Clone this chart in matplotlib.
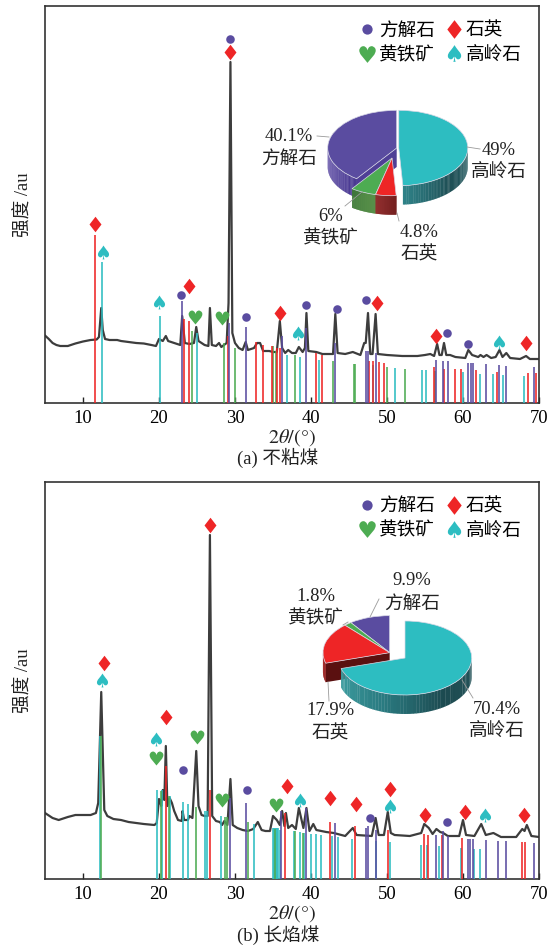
import numpy as np
import matplotlib
matplotlib.use("Agg")
import matplotlib.pyplot as plt
from matplotlib.colors import LinearSegmentedColormap
from matplotlib.lines import Line2D
from matplotlib.patches import Wedge

plt.rcParams["font.family"] = ["Liberation Serif", "Noto Sans CJK SC"]

W, H = 554, 947
PURPLE, GREEN, RED, TEAL = "#5a4ca0", "#4dac52", "#ee2526", "#2dbdc1"
CURVE = "#3d3d3d"
FS = 13.4

names = ["方解石", "黄铁矿", "石英", "高岭石"]
x_ticks = [10, 20, 30, 40, 50, 60, 70]

# intensity is in arbitrary units
a_x = [5, 5.5, 6, 6.5, 7, 8, 9, 10, 11, 11.8, 12.1, 12.4, 12.6, 12.9, 13.5, 14.5, 15, 16, 17, 18, 19, 19.6, 20, 20.5,
       20.9, 21.2, 22, 22.8, 23.05, 23.4, 24, 24.6, 24.9, 25.2, 26, 26.5, 26.7, 26.95, 27.5, 27.9, 28.2, 28.9, 29.15,
       29.4, 29.65, 30, 30.5, 31, 31.4, 31.7, 32.5, 32.9, 33.3, 33.7, 34.5, 35, 35.5, 35.9, 36.2, 36.6, 37, 37.5, 38,
       38.4, 38.9, 39.2, 39.4, 39.65, 40.7, 41.5, 42.9, 43.2, 43.5, 44.5, 45.5, 46.5, 47, 47.2, 47.5, 47.8, 48.1, 48.5,
       48.8, 50, 52, 54, 55, 55.7, 56.2, 56.6, 56.9, 57.2, 57.5, 57.8, 58.3, 59, 60.3, 60.7, 61.2, 62, 62.3, 62.7, 63.1,
       63.7, 64.3, 64.8, 65.2, 65.7, 66.2, 67.5, 68.3, 68.8, 70]
a_y = [67.5, 64, 60, 58, 57, 57, 59.5, 61.5, 63, 63.5, 66, 95, 73, 64, 63, 63, 62, 61, 60, 59.5, 58, 57, 64, 62,
       67, 62, 60, 58, 87, 60, 59, 60, 76, 62, 58, 57, 95, 58, 57, 60, 56, 60, 100,
       341, 70, 60, 55, 53, 61, 53, 55, 60, 60, 52, 52, 51, 51, 82, 55, 50, 53, 50, 50,
       56, 51, 55, 90, 52, 51, 49, 49, 89, 50, 49, 51, 48, 60, 60, 90, 49, 49, 89,
       49, 48, 47, 47, 48, 49, 47, 59, 48, 48, 60, 48, 48, 46, 45, 53, 48, 46, 48, 46, 48,
       45, 46, 53, 46, 50, 45, 44, 47, 44, 44]

a_purple_x = [23.0, 29.2, 31.5, 36.2, 39.4, 43.2, 47.2, 47.5, 48.5, 56.5, 57.4, 58, 60.6, 61, 61.3, 63, 64.7, 65.6, 69.3]
a_purple_y = [102, 80, 76, 67, 75, 60, 52, 52, 50, 43, 42, 42, 40, 40, 40, 39, 38, 37, 36]
a_green_x = [24.4, 28.6, 30, 35, 35.4, 37.9, 42.9, 45.7, 45.8, 50, 52.4, 56.3]
a_green_y = [72, 60, 55, 57, 52, 48, 42, 39, 39, 36, 34, 32]
a_red_x = [11.6, 23.3, 24, 29.1, 32.7, 33.7, 34.9, 35.5, 35.9, 40.6, 41.4, 47.6, 48.1, 48.9, 49.6, 56.2, 57.5, 59, 59.7,
           61.7, 64.5, 68.5, 69.6]
a_red_y = [168, 84, 82, 67, 61, 58, 57, 55, 55, 50, 48, 42, 42, 41, 40, 36, 34, 34, 34, 33, 31, 30, 30]
a_teal_x = [12.5, 20.1, 25, 36.9, 38.6, 41, 48.2, 51.1, 54.6, 55.1, 60, 62.3, 63.9, 65.2, 68]
a_teal_y = [141, 87, 70, 48, 46, 43, 38, 35, 33, 33, 31, 29, 29, 28, 27]

b_x = [5, 6, 6.8, 8, 9, 10, 11, 11.7, 12, 12.4, 12.8, 13.2, 14, 15, 16, 17, 18, 19.4, 19.7, 20, 20.1, 20.3, 20.5, 20.7,
       20.9, 21.1, 21.4, 21.7, 22, 22.5, 23, 23.1, 23.3, 23.8, 24, 24.4, 24.9, 25.2, 25.6, 26, 26.4, 26.7, 27, 27.5, 28,
       28.3, 28.6, 29, 29.4, 29.7, 30.3, 31, 31.7, 32.4, 33, 33.5, 34, 34.6, 35, 35.5, 35.9, 36.2, 36.5, 36.7, 37, 37.5,
       38, 38.4, 39, 39.4, 39.8, 40.3, 40.7, 42, 43, 44.5, 45.5, 46, 48, 48.5, 48.9, 49.6, 50.1, 50.5, 51, 53, 54.5, 54.9,
       55.5, 56, 56.5, 57, 57.4, 58, 59.5, 60, 60.4, 61.5, 62.4, 63, 64, 65, 67, 67.8, 68.1, 68.4, 69, 70]
b_y = [66, 61, 59, 62, 64, 64, 64, 66, 76, 187, 69, 63, 60, 59, 57, 56, 55, 54, 56, 80, 79, 73, 89, 79,
       133, 73, 81, 76, 68, 59, 58, 68, 59, 59, 63, 61, 128, 73, 64, 63, 63, 344, 63, 58, 57,
       54, 58, 54, 100, 54, 51, 49, 48, 50, 57, 49, 48, 48, 63, 59, 54, 68, 53, 66, 51, 54,
       50, 71, 51, 71, 48, 55, 49, 47, 46, 43, 51, 44, 43, 61, 44, 44, 67, 46, 44, 43, 46, 55,
       51, 45, 50, 47, 46, 43, 43, 59, 44, 43, 55, 44, 46, 42, 42, 50, 48, 54, 43, 42]

b_purple_x = [29.4, 31.4, 36.1, 39.4, 43.2, 47.2, 47.5, 48.5, 56.5, 57.4, 58, 60.6, 60.9, 61.3, 63, 64.6, 65.6, 69.3]
b_purple_y = [81, 76, 68, 71, 56, 51, 53, 49, 44, 48, 43, 40, 40, 40, 39, 38, 38, 36]
b_green_x = [12.4, 20.2, 21.3, 24.9, 28.7, 28.9, 31.7, 35.2, 37.9, 39]
b_green_y = [143, 88, 83, 72, 62, 62, 57, 50, 48, 46]
b_red_x = [20.9, 26.7, 36.6, 42.5, 45.8, 50.1, 54.9, 55.4, 57.3, 59.9, 67.8, 68.2]
b_red_y = [113, 89, 66, 57, 53, 49, 45, 44, 44, 41, 37, 37]
b_teal_x = [12.3, 19.8, 20.4, 21.5, 23.1, 23.8, 26, 26.3, 28.2, 32.5, 35, 35.1, 35.3, 35.4, 35.5, 35.6, 35.9, 37.8, 38.5,
            39.1, 40, 40.6, 41.3, 42.8, 43.5, 45.4, 48.6, 50.4, 54.5, 55.3, 56.9, 59.8, 61.5, 62.3]
b_teal_y = [143, 89, 89, 83, 77, 75, 68, 68, 63, 55, 51, 51, 51, 51, 51, 51, 49, 48, 47,
            46, 45, 45, 44, 43, 42, 40, 38, 37, 34, 34, 33, 31, 30, 30]

# peak markers
a_circle = ([22.85, 29.3, 31.5, 39.4, 43.4, 47.3, 57.9, 60.7], [108, 364, 86, 98, 94, 103, 70, 59])
a_heart = ([24.7, 28.3], [86, 85])
a_diamond = ([11.58, 24, 29.3, 35.9, 48.7, 56.5, 68.3], [179, 117, 351, 90, 100, 67, 60])
a_spade = ([12.67, 20, 38.3, 64.7], [151, 101, 70, 61])

b_circle = ([23.2, 31.6, 47.7, 57.9], [108.6, 89, 61, 57])
b_heart = ([19.6, 25, 28.3, 35.4], [121, 141.6, 79, 74])
b_diamond = ([12.76, 20.9, 26.7, 36.8, 42.5, 45.9, 50.4, 55, 60.3, 68], [216, 161.6, 354, 93, 81, 75, 90, 64, 67, 64])
b_spade = ([12.5, 19.6, 38.6, 50.4, 62.9], [199, 140, 79, 73, 64])

a_share = [40.1, 6, 4.8, 49]
b_share = [9.9, 1.8, 17.9, 70.4]

MARKS = {"circle": "o", "heart": "$\u2665$", "diamond": "$\u2666$", "spade": "$\u2660$"}


def draw_xrd(rect, cx, cy, sticks, marks):
    ax = fig.add_axes([rect[0] / W, 1 - rect[3] / H, (rect[2] - rect[0]) / W, (rect[3] - rect[1]) / H])
    ax.plot(cx, cy, color=CURVE, lw=1.6, zorder=2, solid_joinstyle="round")
    for xs, ys, c in sticks:
        ax.vlines(xs, 0, ys, color=c, lw=1.15, zorder=3)
    handles = []
    for (key, size, c), (mx, my), name in zip(
            [("circle", 38, PURPLE), ("heart", 100, GREEN), ("diamond", 125, RED), ("spade", 100, TEAL)], marks, names):
        ax.scatter(mx, my, marker=MARKS[key], s=size, color=c, linewidths=0, zorder=4)
        handles.append(Line2D([], [], ls="", marker=MARKS[key], color=c, mew=0, ms=np.sqrt(size) * 1.2, label=name))
    ax.set_xlim(5, 70)
    ax.set_ylim(0, rect[3] - rect[1])
    ax.set_xticks(x_ticks)
    ax.set_yticks([])
    ax.tick_params(axis="x", direction="in", length=4.5, width=1, labelsize=FS, pad=5, color="#222222")
    for s in ax.spines.values():
        s.set_linewidth(1.2)
        s.set_color("#333333")
    ax.legend(handles=handles, ncol=2, loc="upper left", bbox_to_anchor=((356 - rect[0]) / (rect[2] - rect[0]), 0.96),
              frameon=False, fontsize=FS, labelspacing=0.4, handletextpad=0.05, columnspacing=0.4,
              borderpad=0, borderaxespad=0, handlelength=1.2)
    return ax


def pie_3d(cx, cy, rx, ry, depth, shares, offsets, wall_stops, cut_faces):
    # axes spans 1.5 radii each way, one data unit = one radius
    ax = fig.add_axes([(cx - 1.5 * rx) / W, 1 - (cy + 2.2 * ry) / H, 3 * rx / W, 3.7 * ry / H], zorder=5)
    ax.set_xlim(-1.5, 1.5)
    ax.set_ylim(-2.2, 1.5)
    ax.axis("off")
    d = depth / ry
    edges = 90 + np.concatenate([[0], np.cumsum(shares)]) / np.sum(shares) * 360
    tops = [PURPLE, GREEN, RED, TEAL]
    for i in range(4):
        t1, t2 = edges[i], edges[i + 1]
        ox, oy = offsets[i]
        # flat cut face left open by the slices pulled out of the pie
        if i in cut_faces:
            r = np.radians(t2)
            ax.fill([ox, ox + np.cos(r), ox + np.cos(r), ox], [oy, oy + np.sin(r), oy + np.sin(r) - d, oy - d],
                    color=cut_faces[i], lw=0, zorder=i * 3 + 1)
        lo, hi = max(t1, 180), min(t2, 360)
        if hi > lo:
            cmap = LinearSegmentedColormap.from_list("w", wall_stops[i])
            ts = np.linspace(lo, hi, 60)
            for j in range(len(ts) - 1):
                a = np.radians([ts[j], ts[j + 1] + 0.3])
                ax.fill([ox + np.cos(a[0]), ox + np.cos(a[1]), ox + np.cos(a[1]), ox + np.cos(a[0])],
                        [oy + np.sin(a[0]), oy + np.sin(a[1]), oy + np.sin(a[1]) - d, oy + np.sin(a[0]) - d],
                        color=cmap(j / (len(ts) - 2)), lw=0, zorder=i * 3 + 1)
        ax.add_patch(Wedge((ox, oy), 1, t1, t2, fc=tops[i], ec="#d8d8e6", lw=0.5, zorder=i * 3 + 2))
    return ax


fig = plt.figure(figsize=(W / 100, H / 100), dpi=100)
fig.patch.set_facecolor("white")

draw_xrd((45, 6.3, 539, 403), a_x, a_y,
         [(a_teal_x, a_teal_y, TEAL), (a_green_x, a_green_y, GREEN), (a_red_x, a_red_y, RED),
          (a_purple_x, a_purple_y, PURPLE)],
         [a_circle, a_heart, a_diamond, a_spade])
draw_xrd((45, 482, 539, 879), b_x, b_y,
         [(b_teal_x, b_teal_y, TEAL), (b_green_x, b_green_y, GREEN), (b_red_x, b_red_y, RED),
          (b_purple_x, b_purple_y, PURPLE)],
         [b_circle, b_heart, b_diamond, b_spade])

pie_3d(396.7, 148, 69, 37.7, 19, a_share,
       [(0, 0), (-0.067, -0.265), (-0.067, -0.265), (0.03, 0)],
       [["#5c4aa6", "#4a3a92"], ["#3d7a35", "#4f8a3f"], ["#8e2626", "#6e1515"], ["#2f8288", "#1f4f55", "#225a60"]],
       {0: "#4f3f96"})
pie_3d(405, 658, 66.7, 37, 19, b_share,
       [(-0.23, 0.144), (-0.23, 0.144), (-0.23, 0.144), (0, 0)],
       [["#5c4aa6", "#4a3a92"], ["#3d7a35", "#4f8a3f"], ["#b01c1c", "#8e1515"],
        ["#3d9da0", "#2a7a80", "#1c4a50", "#25545a"]],
       {2: "#5a1010"})

# labels and leaders, in pixel coordinates
over = fig.add_axes([0, 0, 1, 1], zorder=10)
over.set_xlim(0, W)
over.set_ylim(H, 0)
over.axis("off")
over.patch.set_alpha(0)

pie_labels = [
    (289, 136, "40.1%"), (289, 159, "方解石"), (499, 150, "49%"), (499, 172.7, "高岭石"),
    (330.7, 216.7, "6%"), (330.7, 239, "黄铁矿"), (419, 232, "4.8%"), (419, 255, "石英"),
    (411.7, 580.7, "9.9%"), (411.7, 604, "方解石"), (315.7, 596, "1.8%"), (315.7, 619, "黄铁矿"),
    (330, 710, "17.9%"), (330, 734, "石英"), (497, 709, "70.4%"), (497, 731.7, "高岭石"),
]
for px, py, s in pie_labels:
    over.text(px, py, s, ha="center", va="center", fontsize=FS, color="#222222")

leaders = [
    ((317, 329), (136, 137)), ((467, 480), (147, 149)), ((345, 362), (206, 192)), ((397, 399), (213, 221)),
    ((370, 379), (617, 599)), ((343, 348), (625, 622)), ((328, 329), (682, 701)), ((462, 473), (680, 698)),
]
for lx, ly in leaders:
    over.plot(lx, ly, color="#9a9a9a", lw=0.6)

for cap_y, xl_y, ylab_y, cap in [(458, 437.5, 205, "(a) 不粘煤"), (935, 914, 681, "(b) 长焰煤")]:
    over.text(292, xl_y, r"$2\theta/(°)$", ha="center", va="center", fontsize=14.5, color="#222222",
              math_fontfamily="stix")
    over.text(278, cap_y, cap, ha="center", va="center", fontsize=FS, color="#222222")
    over.text(24, ylab_y, "强度 /au", ha="center", va="center", rotation=90, fontsize=FS, color="#222222")

fig.savefig("out.png", dpi=100)
